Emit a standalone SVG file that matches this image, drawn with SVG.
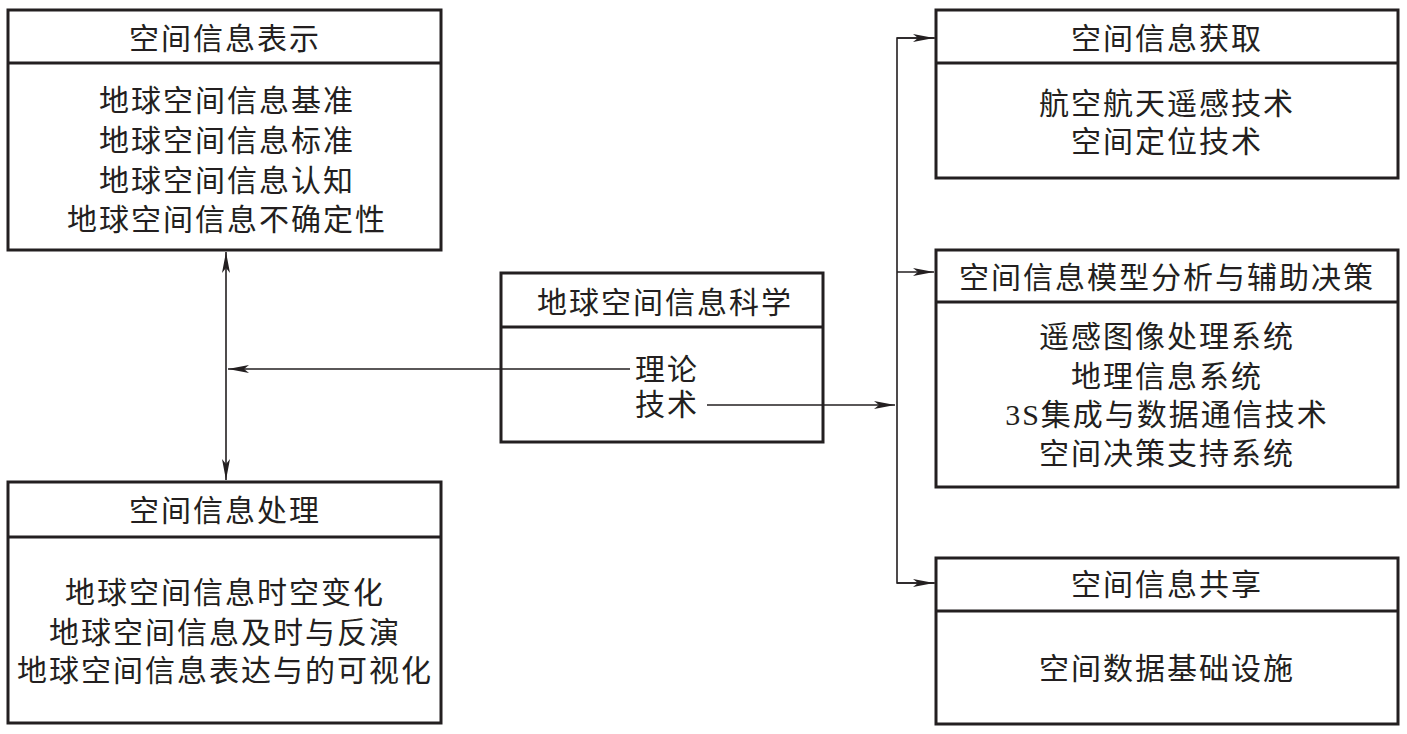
<svg xmlns="http://www.w3.org/2000/svg" width="1407" height="734" viewBox="0 0 1407 734">
<style>
.box{fill:#fff;stroke:#231f20;stroke-width:3}
.div{stroke:#231f20;stroke-width:3}
.t{font-family:"Liberation Serif","Noto Sans CJK SC",serif;font-size:30px;fill:#231f20;text-anchor:middle;dominant-baseline:central;letter-spacing:2px}
.tl{text-anchor:start}
.c{fill:none;stroke:#231f20;stroke-width:1.6}
</style>
<defs>
<marker id="ah" markerUnits="userSpaceOnUse" markerWidth="22" markerHeight="10" refX="21" refY="5" orient="auto-start-reverse">
<path d="M0,1 L21,5 L0,9 L5,5 Z" fill="#231f20"/>
</marker>
</defs>
<rect width="1407" height="734" fill="#fff"/>

<g id="node-representation">
<rect class="box" x="8" y="10" width="433" height="240"/>
<line class="div" x1="8" y1="63" x2="441" y2="63"/>
<text class="t" x="225" y="38">空间信息表示</text>
<text class="t" x="227" y="100">地球空间信息基准</text>
<text class="t" x="227" y="140">地球空间信息标准</text>
<text class="t" x="227" y="180">地球空间信息认知</text>
<text class="t" x="227" y="219">地球空间信息不确定性</text>
</g>

<g id="node-processing">
<rect class="box" x="8" y="482" width="433" height="241"/>
<line class="div" x1="8" y1="537" x2="441" y2="537"/>
<text class="t" x="225" y="510">空间信息处理</text>
<text class="t" x="225" y="592">地球空间信息时空变化</text>
<text class="t" x="225" y="632">地球空间信息及时与反演</text>
<text class="t" x="225" y="670">地球空间信息表达与的可视化</text>
</g>

<g id="node-science">
<rect class="box" x="501" y="273" width="322" height="169"/>
<line class="div" x1="501" y1="327" x2="823" y2="327"/>
<text class="t" x="665" y="302">地球空间信息科学</text>
<text class="t tl" x="635" y="369">理论</text>
<text class="t tl" x="635" y="404">技术</text>
</g>

<g id="node-acquisition">
<rect class="box" x="936" y="10" width="462" height="168"/>
<line class="div" x1="936" y1="63" x2="1398" y2="63"/>
<text class="t" x="1167" y="38">空间信息获取</text>
<text class="t" x="1167" y="103">航空航天遥感技术</text>
<text class="t" x="1167" y="141">空间定位技术</text>
</g>

<g id="node-analysis">
<rect class="box" x="936" y="250" width="462" height="237"/>
<line class="div" x1="936" y1="302" x2="1398" y2="302"/>
<text class="t" x="1167" y="277">空间信息模型分析与辅助决策</text>
<text class="t" x="1167" y="336">遥感图像处理系统</text>
<text class="t" x="1167" y="376">地理信息系统</text>
<text class="t" x="1167" y="414">3S集成与数据通信技术</text>
<text class="t" x="1167" y="453">空间决策支持系统</text>
</g>

<g id="node-sharing">
<rect class="box" x="936" y="558" width="462" height="166"/>
<line class="div" x1="936" y1="611" x2="1398" y2="611"/>
<text class="t" x="1167" y="584">空间信息共享</text>
<text class="t" x="1167" y="668">空间数据基础设施</text>
</g>

<g id="connectors">
<line class="c" x1="226" y1="252" x2="226" y2="480" marker-start="url(#ah)" marker-end="url(#ah)"/>
<line class="c" x1="630" y1="369" x2="228" y2="369" marker-end="url(#ah)"/>
<line class="c" x1="707" y1="405" x2="895" y2="405" marker-end="url(#ah)"/>
<polyline class="c" points="935,38 897,38 897,583 935,583"/>
<line class="c" x1="897" y1="38" x2="934" y2="38" marker-end="url(#ah)"/>
<line class="c" x1="897" y1="272" x2="934" y2="272" marker-end="url(#ah)"/>
<line class="c" x1="897" y1="583" x2="934" y2="583" marker-end="url(#ah)"/>
</g>
</svg>
